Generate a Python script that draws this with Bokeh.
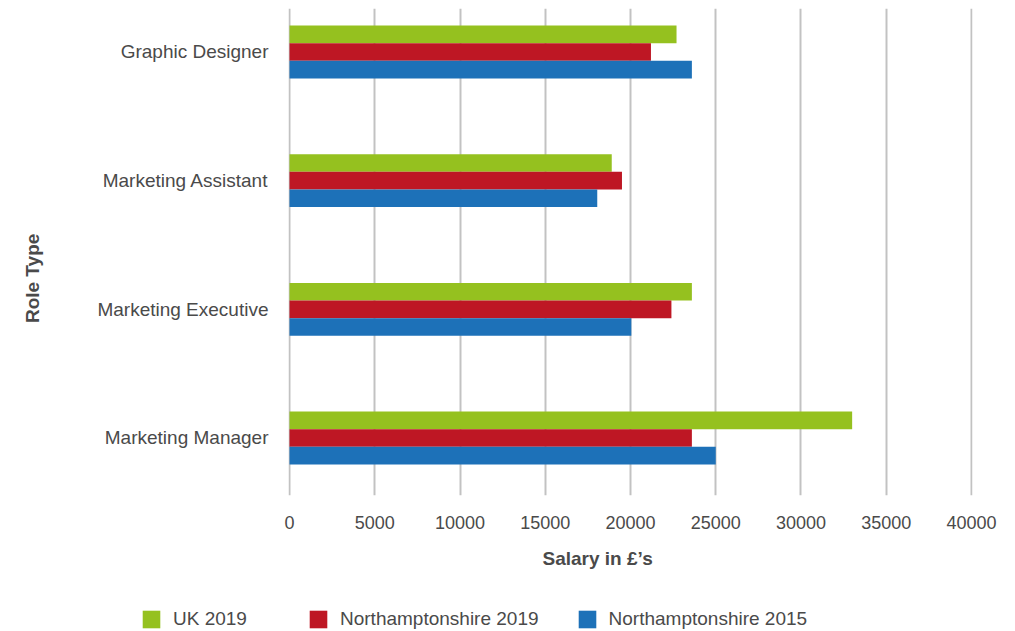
from bokeh.plotting import figure
from bokeh.models import (ColumnDataSource, Range1d, FixedTicker, Legend, LegendItem, Title)
from bokeh.transform import dodge
from bokeh.embed import file_html
from bokeh.resources import INLINE

# ---- data ----
roles = ["Marketing Manager", "Marketing Executive", "Marketing Assistant", "Graphic Designer"]
uk_2019 = [33000, 23600, 18900, 22700]
northants_2019 = [23600, 22400, 19500, 21200]
northants_2015 = [25000, 20050, 18050, 23600]
x_ticks = [0, 5000, 10000, 15000, 20000, 25000, 30000, 35000, 40000]

series_names = ["UK 2019", "Northamptonshire 2019", "Northamptonshire 2015"]
colors = ["#95C11F", "#BE1724", "#1D71B8"]

FONT = "Liberation Sans"
TXT = "#4a4a4a"

pos = list(range(len(roles)))
src = ColumnDataSource(dict(y=pos, uk=uk_2019, n19=northants_2019, n15=northants_2015))
cols = ["uk", "n19", "n15"]

p = figure(output_backend="svg", toolbar_location=None,
           frame_width=684, frame_height=487,
           min_border_left=288, min_border_right=34, min_border_top=8, min_border_bottom=95,
           x_range=Range1d(-59, 40059), y_range=Range1d(-0.447, 3.338))

bh = 0.137
offsets = [bh, 0, -bh]
for col, c, off in zip(cols, colors, offsets):
    p.hbar(y=dodge("y", off, range=p.y_range), right=col, left=0, height=bh, source=src,
           color=c, line_color=None)

p.outline_line_color = None
p.ygrid.grid_line_color = None
p.xgrid.grid_line_color = "#c2c2c2"
p.xgrid.grid_line_width = 2
p.xaxis.ticker = FixedTicker(ticks=x_ticks)
p.xaxis.formatter.use_scientific = False
p.yaxis.ticker = FixedTicker(ticks=pos)
p.yaxis.major_label_overrides = {i: r for i, r in enumerate(roles)}

for ax in (p.xaxis[0], p.yaxis[0]):
    ax.axis_line_color = None
    ax.major_tick_line_color = None
    ax.minor_tick_line_color = None
    ax.major_tick_out = 0
    ax.major_tick_in = 0
    ax.major_label_text_font = FONT
    ax.major_label_text_color = TXT
    ax.major_label_standoff = 20
p.xaxis.major_label_text_font_size = "18px"
p.yaxis.major_label_text_font_size = "19px"

# y axis title (trailing no-break spaces shift it down, as in the reference)
p.yaxis.axis_label = "Role Type" + "\u00a0" * 10
p.yaxis.axis_label_standoff = 51
p.yaxis.axis_label_text_font = FONT
p.yaxis.axis_label_text_font_size = "19px"
p.yaxis.axis_label_text_font_style = "bold"
p.yaxis.axis_label_text_color = TXT

# x axis title
p.add_layout(Title(text="Salary in £’s", align="left", offset=254, standoff=28,
                   text_font=FONT, text_font_size="19px", text_font_style="bold",
                   text_color=TXT), "below")

# legend strip: a second root below the chart (hidden renderers give the swatches)
lf = figure(output_backend="svg", toolbar_location=None, width=1006, height=40,
            min_border=0, x_axis_location=None, y_axis_location=None,
            x_range=Range1d(0, 1), y_range=Range1d(0, 1))
lf.outline_line_color = None
lf.grid.grid_line_color = None
swatches = [lf.hbar(y="y", right=col, left=0, height=bh, source=src, color=c,
                    line_color=None, visible=False)
            for col, c in zip(cols, colors)]
items = [LegendItem(label=n, renderers=[r]) for n, r in zip(series_names, swatches)]
lg = Legend(items=items, location=(140, 0), orientation="horizontal",
            glyph_width=22, glyph_height=22, label_height=18, label_width=97,
            label_standoff=11, spacing=37, inactive_fill_alpha=0,
            padding=0, margin=0, border_line_color=None, background_fill_alpha=0,
            label_text_font=FONT, label_text_font_size="19px", label_text_color=TXT)
lf.add_layout(lg, "center")

open("out.html", "w").write(file_html([p, lf], INLINE))
